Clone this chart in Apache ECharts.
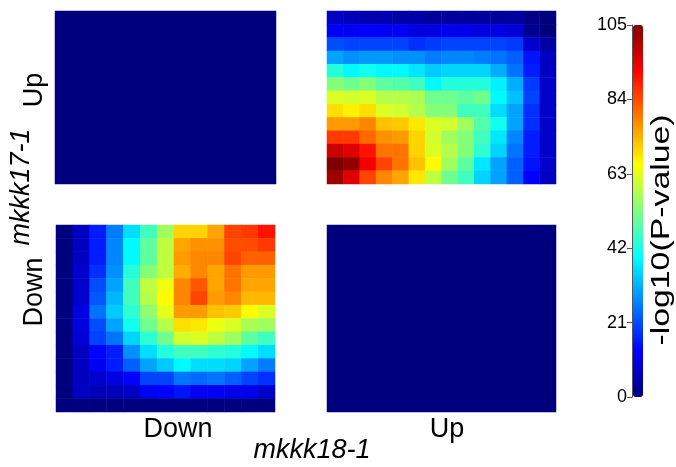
<!DOCTYPE html>
<html>
<head>
<meta charset="utf-8">
<script src="https://cdn.jsdelivr.net/npm/echarts@6/dist/echarts.min.js"></script>
<style>
html, body { margin: 0; padding: 0; background: #fff; }
#main { width: 676px; height: 467px; }
</style>
</head>
<body>
<div id="main"></div>
<script>
// -log10(P) per cell, rows listed top to bottom
// mkkk17-1 Up x mkkk18-1 Up (13 rows x 14 cols)
var upUpRows = [
    [7, 6, 5, 5, 4, 4, 3, 3, 3, 3, 3, 3, 1, 0],
    [12, 12, 13, 12, 12, 10, 10, 11, 11, 10, 10, 9, 2, 0],
    [21, 20, 20, 20, 20, 18, 19, 20, 20, 20, 20, 19, 8, 4],
    [30, 28, 29, 29, 28, 28, 26, 27, 27, 26, 25, 23, 15, 7],
    [43, 39, 41, 39, 39, 37, 34, 35, 35, 35, 31, 25, 16, 7],
    [53, 51, 53, 49, 48, 46, 39, 43, 43, 43, 38, 31, 19, 8],
    [62, 61, 62, 58, 58, 57, 51, 51, 49, 51, 39, 33, 20, 8],
    [69, 67, 69, 62, 61, 58, 53, 53, 46, 46, 36, 30, 18, 8],
    [76, 76, 78, 72, 71, 68, 62, 61, 56, 48, 41, 30, 18, 8],
    [86, 86, 81, 77, 76, 70, 61, 56, 53, 46, 37, 27, 16, 8],
    [97, 95, 90, 80, 80, 70, 62, 58, 53, 44, 35, 25, 16, 8],
    [105, 103, 93, 85, 80, 72, 66, 56, 49, 37, 30, 23, 15, 8],
    [102, 95, 85, 78, 75, 68, 59, 51, 46, 35, 30, 23, 13, 7]
];
// mkkk17-1 Down x mkkk18-1 Down (14 rows x 13 cols)
var downDownRows = [
    [0, 7, 16, 26, 36, 46, 56, 70, 70, 75, 85, 86, 90],
    [0, 7, 16, 27, 39, 49, 59, 75, 77, 77, 84, 84, 86],
    [0, 7, 16, 27, 39, 49, 59, 76, 78, 78, 85, 82, 82],
    [0, 8, 18, 28, 43, 53, 59, 74, 78, 75, 80, 76, 76],
    [0, 8, 21, 30, 46, 59, 64, 78, 83, 75, 80, 75, 75],
    [0, 8, 22, 32, 46, 58, 66, 78, 85, 76, 78, 73, 73],
    [0, 10, 25, 34, 44, 54, 63, 76, 76, 72, 71, 66, 62],
    [0, 10, 21, 30, 41, 51, 58, 69, 68, 64, 62, 57, 56],
    [0, 9, 20, 25, 35, 44, 51, 61, 62, 59, 56, 49, 46],
    [0, 7, 13, 16, 28, 36, 43, 46, 46, 44, 43, 39, 36],
    [0, 7, 12, 16, 23, 30, 34, 39, 36, 36, 35, 30, 26],
    [0, 7, 8, 10, 13, 20, 20, 25, 24, 25, 23, 20, 18],
    [0, 7, 6, 6, 7, 12, 13, 15, 12, 12, 11, 11, 8],
    [0, 0, 0, 0, 0, 0, 0, 0, 0, 0, 0, 0, 0]
];
// the discordant quadrants are flat zero
var upDownValue = [[0]];
var downUpValue = [[0]];

var scaleTicks = [0, 21, 42, 63, 84, 105];
var scaleTitle = '-log10(P-value)';
var colLabels = ['Down', 'Up'];
var rowLabels = ['Up', 'Down'];
var xTitle = 'mkkk18-1';
var yTitle = 'mkkk17-1';

var jet = ['#00007f', '#0000ff', '#007fff', '#00ffff', '#7fff7f',
           '#ffff00', '#ff7f00', '#ff0000', '#7f0000'];
var font = 'Liberation Sans, Arial, sans-serif';

function toCells(rows) {
    var out = [];
    rows.forEach(function(r, y) {
        r.forEach(function(v, x) {
            out.push([x, y, v]);
        });
    });
    return out;
}

function idx(n) {
    var a = [];
    for (var i = 0; i < n; i++) a.push(i);
    return a;
}

var panels = [
    { rows: upDownValue, box: { left: 55, top: 11, width: 221, height: 173 } },
    { rows: upUpRows, box: { left: 327, top: 11, width: 229, height: 173 } },
    { rows: downDownRows, box: { left: 56, top: 225, width: 219, height: 187 } },
    { rows: downUpValue, box: { left: 327, top: 225, width: 229, height: 187 } }
];

var grids = [], xAxes = [], yAxes = [], series = [];
panels.forEach(function(p, i) {
    grids.push(p.box);
    xAxes.push({
        type: 'category', gridIndex: i, data: idx(p.rows[0].length), show: false
    });
    yAxes.push({
        type: 'category', gridIndex: i, data: idx(p.rows.length), show: false, inverse: true
    });
    series.push({
        type: 'heatmap', xAxisIndex: i, yAxisIndex: i,
        data: toCells(p.rows),
        emphasis: { disabled: true },
        itemStyle: { borderWidth: 0 }
    });
});

// colour bar axis
grids.push({ left: 632, top: 25, width: 11, height: 372 });
xAxes.push({ type: 'value', gridIndex: 4, show: false, min: 0, max: 1 });
yAxes.push({
    type: 'value', gridIndex: 4, position: 'left',
    min: scaleTicks[0], max: scaleTicks[scaleTicks.length - 1],
    interval: scaleTicks[1] - scaleTicks[0],
    axisLine: { show: true, lineStyle: { color: '#555', width: 1 } },
    axisTick: { show: true, length: 5, lineStyle: { color: '#555' } },
    splitLine: { show: false },
    axisLabel: { fontSize: 18, color: '#000', fontFamily: font, margin: 5 }
});

function txt(x, y, s, size, rot, italic, stretch) {
    return {
        type: 'text', x: x, y: y, rotation: rot || 0, scaleX: stretch || 1,
        style: {
            text: s, fontSize: size, fontFamily: font, fill: '#000',
            fontStyle: italic ? 'italic' : 'normal',
            align: 'center', verticalAlign: 'middle'
        }
    };
}
var R = Math.PI / 2;

var chart = echarts.init(document.getElementById('main'));
chart.setOption({
    animation: false,
    backgroundColor: '#fff',
    grid: grids,
    xAxis: xAxes,
    yAxis: yAxes,
    visualMap: {
        type: 'continuous',
        min: scaleTicks[0], max: scaleTicks[scaleTicks.length - 1],
        seriesIndex: [0, 1, 2, 3],
        calculable: false, showLabel: false, text: null,
        itemWidth: 10, itemHeight: 372,
        left: 633, top: 25, padding: 0,
        inRange: { color: jet }
    },
    series: series,
    graphic: [
        txt(35, 90, rowLabels[0], 27, R),
        txt(35, 292, rowLabels[1], 27, R),
        txt(21, 187, yTitle, 27, R, true),
        txt(178, 430, colLabels[0], 27, 0),
        txt(447, 430, colLabels[1], 27, 0),
        txt(312, 450, xTitle, 27, 0, true),
        txt(662, 230, scaleTitle, 26, R, false, 1.3)
    ]
});
</script>
</body>
</html>
